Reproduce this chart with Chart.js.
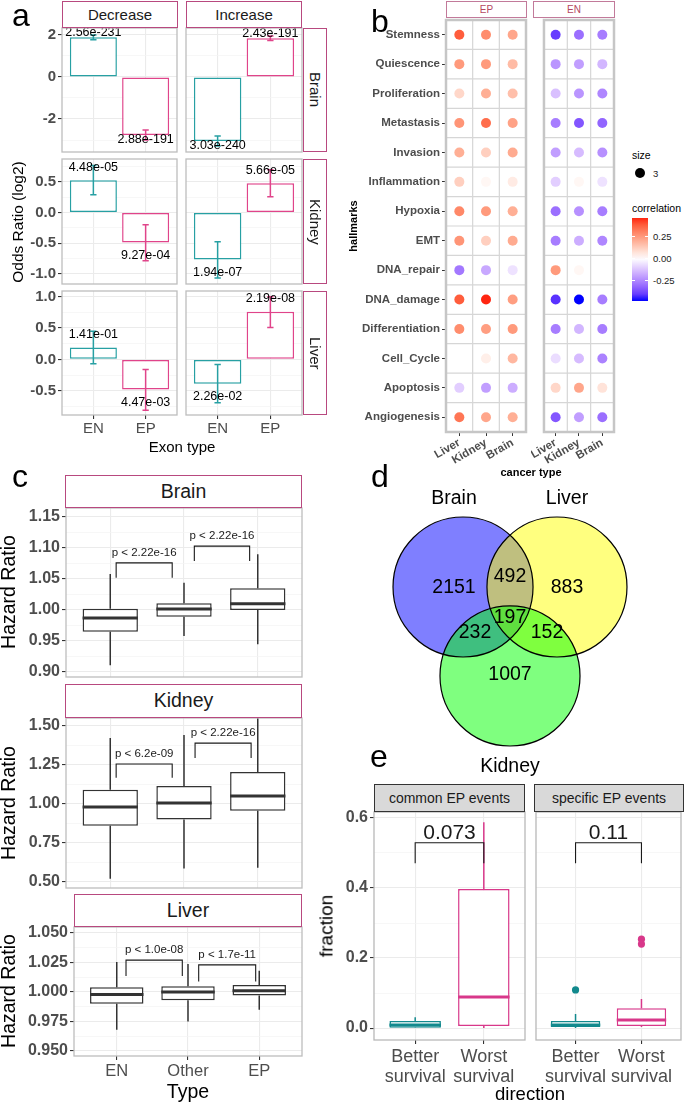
<!DOCTYPE html>
<html>
<head>
<meta charset="utf-8">
<title>Exon events figure</title>
<script src="https://cdn.jsdelivr.net/npm/chart.js@4.4.1/dist/chart.umd.min.js"></script>
<style>
  body { margin: 0; background: #fff; }
  #page { position: relative; width: 685px; height: 1104px; overflow: hidden; background: #fff;
          font-family: 'Liberation Sans', Arial, sans-serif; }
  #page canvas { position: absolute; z-index: 1; }
  .t { position: absolute; white-space: nowrap; line-height: 1; z-index: 3; }
  .strip { position: absolute; box-sizing: border-box; display: flex; align-items: center;
           justify-content: center; line-height: 1; z-index: 2; white-space: nowrap; }
</style>
</head>
<body>
<div id="page"></div>
<script>
// Fonts and colours
const FONT = "'Liberation Sans', Arial, sans-serif";
const TEAL = '#27A0A3';
const PINK = '#E0448A';
const TEAL_E = '#12898D';
const PINK_E = '#D8388A';
const GRID_MAJOR = '#EBEBEB';
const GRID_MINOR = '#F4F4F4';
const TICK = '#4D4D4D';
const PANEL_BORDER = '#BDBDBD';
const STRIP_BORDER = '#B8497F';
const exonColors = [TEAL, PINK];

// ---- Panel a: odds ratio (log2) per exon type ----
const exonTypes = ['EN', 'EP'];
const orBrainDec = [1.89, -2.76];
const orBrainInc = [-3.05, 1.84];
const orKidneyDec = [0.53, -0.49];
const orKidneyInc = [-0.77, 0.48];
const orLiverDec = [0.19, -0.48];
const orLiverInc = [-0.39, 0.76];
const ciBrainDec = [[1.77, 2.00], [-3.00, -2.52]];
const ciBrainInc = [[-3.28, -2.81], [1.74, 1.95]];
const ciKidneyDec = [[0.29, 0.77], [-0.79, -0.20]];
const ciKidneyInc = [[-1.07, -0.48], [0.26, 0.70]];
const ciLiverDec = [[-0.07, 0.45], [-0.81, -0.16]];
const ciLiverInc = [[-0.69, -0.08], [0.51, 1.00]];
const pBrainDec = ['2.56e-231', '2.88e-191'];
const pBrainInc = ['3.03e-240', '2.43e-191'];
const pKidneyDec = ['4.48e-05', '9.27e-04'];
const pKidneyInc = ['1.94e-07', '5.66e-05'];
const pLiverDec = ['1.41e-01', '4.47e-03'];
const pLiverInc = ['2.26e-02', '2.19e-08'];
const orTicksBrain = [-2, 0, 2];
const orTicksKidney = [-1, -0.5, 0, 0.5];
const orTicksLiver = [-0.5, 0, 0.5, 1];

// ---- Panel b: hallmark correlations ----
const hallmarks = ['Stemness', 'Quiescence', 'Proliferation', 'Metastasis', 'Invasion', 'Inflammation',
  'Hypoxia', 'EMT', 'DNA_repair', 'DNA_damage', 'Differentiation', 'Cell_Cycle', 'Apoptosis', 'Angiogenesis'];
const cancerTypes = ['Liver', 'Kidney', 'Brain'];
const corrEPLiver = [0.38, 0.25, 0.10, 0.26, 0.20, 0.12, 0.29, 0.26, -0.28, 0.38, 0.28, 0.00, -0.10, 0.33];
const corrEPKidney = [0.28, 0.25, 0.20, 0.35, 0.12, 0.02, 0.25, 0.12, -0.18, 0.46, 0.24, 0.04, -0.20, 0.22];
const corrEPBrain = [0.22, 0.17, 0.16, 0.23, 0.21, 0.05, 0.20, 0.21, -0.06, 0.24, 0.25, 0.18, -0.17, 0.20];
const corrENLiver = [-0.40, -0.22, -0.13, -0.27, -0.20, -0.10, -0.30, -0.27, 0.25, -0.42, -0.27, -0.07, 0.10, -0.35];
const corrENKidney = [-0.30, -0.20, -0.22, -0.35, -0.14, 0.02, -0.23, -0.17, 0.02, -0.48, -0.15, -0.14, 0.22, -0.20];
const corrENBrain = [-0.27, -0.15, -0.25, -0.32, -0.23, -0.06, -0.27, -0.25, 0.00, -0.27, -0.27, -0.26, 0.07, -0.30];
const corrTicks = [0.25, 0, -0.25];

// ---- Panel c: hazard ratios, [lower whisker, Q1, median, Q3, upper whisker] ----
const hrTypes = ['EN', 'Other', 'EP'];
const hrBrain = [[0.911, 0.965, 0.987, 1.002, 1.058], [0.958, 0.989, 1.0016, 1.011, 1.044], [0.945, 1.000, 1.010, 1.035, 1.090]];
const hrKidney = [[0.52, 0.86, 0.98, 1.09, 1.423], [0.585, 0.90, 1.006, 1.115, 1.442], [0.59, 0.955, 1.05, 1.205, 1.58]];
const hrLiver = [[0.968, 0.990, 0.998, 1.004, 1.0254], [0.975, 0.993, 1.000, 1.005, 1.0237], [0.985, 0.997, 1.001, 1.006, 1.018]];
const hrTicksBrain = [0.90, 0.95, 1.00, 1.05, 1.10, 1.15];
const hrTicksKidney = [0.50, 0.75, 1.00, 1.25, 1.50];
const hrTicksLiver = [0.950, 0.975, 1.000, 1.025, 1.050];
// significance brackets: [from, to, leg end, bar height, label]
const sigBrain = [[0.08, 0.84, 1.052, 1.076, 'p < 2.22e-16'], [1.14, 1.89, 1.079, 1.103, 'p < 2.22e-16']];
const sigKidney = [[0.08, 0.84, 1.167, 1.256, 'p < 6.2e-09'], [1.15, 1.91, 1.295, 1.39, 'p < 2.22e-16']];
const sigLiver = [[0.13, 0.92, 1.0135, 1.027, 'p < 1.0e-08'], [1.15, 1.95, 1.009, 1.023, 'p < 1.7e-11']];

// ---- Panel d: Venn counts ----
const vennSets = ['Brain', 'Liver', 'Kidney'];
const vennRegions = ['Brain only', 'Brain+Liver', 'Liver only', 'Brain+Kidney', 'all', 'Liver+Kidney', 'Kidney only'];
const vennCounts = [2151, 492, 883, 232, 197, 152, 1007];

// ---- Panel e: fraction by survival direction ----
const directions = [['Better', 'survival'], ['Worst', 'survival']];
const fracCommon = [[0.0, 0.001, 0.009, 0.020, 0.031], [0.0, 0.006, 0.089, 0.397, 0.588]];
const fracSpecific = [[0.0, 0.003, 0.009, 0.020, 0.040], [0.003, 0.006, 0.023, 0.057, 0.083]];
const outliersSpecific = [[0, 0.109], [1, 0.254], [1, 0.240]];
const sigCommon = [[0, 1, 0.471, 0.529, '0.073']];
const sigSpecific = [[0, 1, 0.471, 0.529, '0.11']];
const fracTicks = [0, 0.2, 0.4, 0.6];

// Venn geometry (circle radius = 1 unit)
const vennCircles = [[-0.671, 0], [0.671, 0], [0, -1.271]];
const vennCountAt = [[-0.8, -0.014], [0, 0.143], [0.814, -0.014], [-0.5, -0.657], [0, -0.443], [0.529, -0.657], [0, -1.257]];
const vennNameAt = [[-0.8, 1.257], [0.814, 1.257], [0, -2.571]];

const page = document.getElementById('page');

// Colour scale for correlation (gradient2 in Lab space)
function rgbToLab([r, g, b]) {
  const lin = c => { c /= 255; return c <= 0.04045 ? c / 12.92 : Math.pow((c + 0.055) / 1.055, 2.4); };
  const R = lin(r), G = lin(g), B = lin(b);
  const X = (0.4124 * R + 0.3576 * G + 0.1805 * B) / 0.95047;
  const Y = 0.2126 * R + 0.7152 * G + 0.0722 * B;
  const Z = (0.0193 * R + 0.1192 * G + 0.9505 * B) / 1.08883;
  const f = t => t > 0.008856 ? Math.cbrt(t) : 7.787 * t + 16 / 116;
  return [116 * f(Y) - 16, 500 * (f(X) - f(Y)), 200 * (f(Y) - f(Z))];
}
function labToRgb([L, a, b]) {
  const fy = (L + 16) / 116, fx = fy + a / 500, fz = fy - b / 200;
  const inv = t => t > 0.206893 ? t * t * t : (t - 16 / 116) / 7.787;
  const X = 0.95047 * inv(fx), Y = inv(fy), Z = 1.08883 * inv(fz);
  const gam = c => {
    c = c <= 0.0031308 ? 12.92 * c : 1.055 * Math.pow(c, 1 / 2.4) - 0.055;
    return Math.round(Math.min(1, Math.max(0, c)) * 255);
  };
  return [gam(3.2406 * X - 1.5372 * Y - 0.4986 * Z), gam(-0.9689 * X + 1.8758 * Y + 0.0415 * Z),
          gam(0.0557 * X - 0.2040 * Y + 1.0570 * Z)];
}
const LAB_LOW = rgbToLab([0, 0, 255]);
const LAB_MID = rgbToLab([255, 255, 255]);
const LAB_HIGH = rgbToLab([255, 0, 0]);
const CORR_LIMIT = 0.48;
function corrColor(v) {
  const t = Math.max(-1, Math.min(1, v / CORR_LIMIT));
  const end = t < 0 ? LAB_LOW : LAB_HIGH, k = Math.abs(t);
  const [r, g, b] = labToRgb(LAB_MID.map((m, i) => m + (end[i] - m) * k));
  return `rgb(${r},${g},${b})`;
}

// HTML text helpers
function text(str, cx, cy, size, o = {}) {
  const d = document.createElement('div');
  d.className = 't';
  d.textContent = str;
  d.style.left = cx + 'px';
  d.style.top = cy + 'px';
  d.style.fontSize = size + 'px';
  d.style.color = o.color || '#000';
  if (o.bold) d.style.fontWeight = 'bold';
  const ax = o.anchor === 'start' ? '0' : '-50%';
  d.style.transform = `translate(${ax}, -50%)` + (o.rotate ? ` rotate(${o.rotate}deg)` : '');
  page.appendChild(d);
  return d;
}
function strip(str, x, y, w, h, o = {}) {
  const d = document.createElement('div');
  d.className = 'strip';
  d.textContent = str;
  Object.assign(d.style, {
    left: x + 'px', top: y + 'px', width: w + 'px', height: h + 'px',
    fontSize: (o.size || 15) + 'px', color: o.color || '#1A1A1A',
    background: o.fill || '#fff', border: `1px solid ${o.border || STRIP_BORDER}`
  });
  if (o.vertical) d.style.writingMode = 'vertical-rl';
  page.appendChild(d);
}

// Chart with an exact plot rectangle on the page
function plotArea(rect, pad, config) {
  const [x, y, w, h] = rect;
  const [pt, pr, pb, pl] = pad;
  const canvas = document.createElement('canvas');
  canvas.width = pl + w + pr;
  canvas.height = pt + h + pb;
  canvas.style.left = (x - pl) + 'px';
  canvas.style.top = (y - pt) + 'px';
  canvas.style.width = canvas.width + 'px';
  canvas.style.height = canvas.height + 'px';
  page.appendChild(canvas);
  const opts = config.options;
  opts.responsive = false;
  opts.animation = false;
  opts.events = [];
  opts.devicePixelRatio = 1;
  opts.layout = { padding: { top: pt, right: pr, bottom: 0, left: 0 } };
  opts.plugins = { legend: { display: false }, tooltip: { enabled: false } };
  opts.scales.x.afterFit = s => { s.height = pb; };
  opts.scales.y.afterFit = s => { s.width = pl; };
  return new Chart(canvas, config);
}

function minorsOf(majors, min, max) {
  const step = majors[1] - majors[0], out = [];
  for (let v = majors[0] - step / 2; v <= max; v += step) {
    if (v >= min) out.push(+v.toFixed(6));
  }
  return out;
}

function yAxis(majors, min, max, digits, show, size) {
  const minors = minorsOf(majors, min, max);
  const isMajor = t => t && majors.includes(t.value);
  return {
    type: 'linear', min, max,
    afterBuildTicks: s => { s.ticks = majors.concat(minors).map(v => ({ value: v })); },
    ticks: {
      display: show, autoSkip: false, padding: 2, color: TICK,
      font: { family: FONT, size, weight: 'bold' },
      callback: v => majors.includes(v) ? v.toFixed(digits) : ''
    },
    grid: {
      color: c => isMajor(c.tick) ? GRID_MAJOR : GRID_MINOR,
      lineWidth: c => isMajor(c.tick) ? 1.1 : 0.7,
      tickColor: c => show && isMajor(c.tick) ? '#333' : 'rgba(0,0,0,0)',
      tickLength: 4
    },
    border: { display: false }
  };
}

function xCats(labels, show, size, pad) {
  return {
    type: 'linear', min: -0.6, max: labels.length - 0.4, offset: false,
    afterBuildTicks: s => { s.ticks = labels.map((_, i) => ({ value: i })); },
    ticks: {
      display: show, autoSkip: false, minRotation: 0, maxRotation: 0, padding: pad || 2, color: TICK,
      font: { family: FONT, size, lineHeight: 1.1 },
      callback: v => labels[v]
    },
    grid: { color: GRID_MAJOR, lineWidth: 1.1, offset: false, tickColor: show ? '#333' : 'rgba(0,0,0,0)', tickLength: 4 },
    border: { display: false }
  };
}

// Plugins
const framePlugin = (color, width) => ({
  id: 'frame',
  afterDraw(chart) {
    const { ctx, chartArea: a } = chart;
    ctx.save();
    ctx.strokeStyle = color;
    ctx.lineWidth = width;
    ctx.strokeRect(a.left, a.top, a.width, a.height);
    ctx.restore();
  }
});

const errorBarPlugin = (vals, ci, labels) => ({
  id: 'errorBars',
  afterDatasetsDraw(chart) {
    const { ctx, scales: { x, y } } = chart;
    const cap = x.getPixelForValue(0.06) - x.getPixelForValue(0);
    ctx.save();
    ctx.lineWidth = 1.5;
    vals.forEach((v, i) => {
      const px = x.getPixelForValue(i);
      const lo = y.getPixelForValue(ci[i][0]), hi = y.getPixelForValue(ci[i][1]);
      ctx.strokeStyle = exonColors[i];
      ctx.beginPath();
      ctx.moveTo(px, lo); ctx.lineTo(px, hi);
      ctx.moveTo(px - cap, lo); ctx.lineTo(px + cap, lo);
      ctx.moveTo(px - cap, hi); ctx.lineTo(px + cap, hi);
      ctx.stroke();
      ctx.fillStyle = '#000';
      ctx.font = `12.5px ${FONT}`;
      ctx.textAlign = 'center';
      ctx.textBaseline = 'middle';
      ctx.fillText(labels[i], px, y.getPixelForValue(v + Math.sign(v) * 0.21));
    });
    ctx.restore();
  }
});

const boxPlugin = (stats, colors) => ({
  id: 'boxParts',
  afterDatasetsDraw(chart) {
    const { ctx, chartArea: a, scales: { x, y } } = chart;
    const half = x.getPixelForValue(0.375) - x.getPixelForValue(0);
    ctx.save();
    ctx.beginPath();
    ctx.rect(a.left, a.top, a.width, a.height);
    ctx.clip();
    stats.forEach((s, i) => {
      const px = x.getPixelForValue(i);
      ctx.strokeStyle = colors[i];
      ctx.lineWidth = 1.5;
      ctx.beginPath();
      ctx.moveTo(px, y.getPixelForValue(s[0])); ctx.lineTo(px, y.getPixelForValue(s[1]));
      ctx.moveTo(px, y.getPixelForValue(s[3])); ctx.lineTo(px, y.getPixelForValue(s[4]));
      ctx.stroke();
      ctx.lineWidth = 3;
      ctx.beginPath();
      ctx.moveTo(px - half, y.getPixelForValue(s[2]));
      ctx.lineTo(px + half, y.getPixelForValue(s[2]));
      ctx.stroke();
    });
    ctx.restore();
  }
});

const bracketPlugin = (list, font, gap) => ({
  id: 'brackets',
  afterDatasetsDraw(chart) {
    const { ctx, scales: { x, y } } = chart;
    ctx.save();
    ctx.strokeStyle = '#1A1A1A';
    ctx.fillStyle = '#1A1A1A';
    ctx.lineWidth = 1.1;
    ctx.font = font;
    ctx.textAlign = 'center';
    ctx.textBaseline = 'middle';
    list.forEach(([x1, x2, yLeg, yTop, label]) => {
      const a = x.getPixelForValue(x1), b = x.getPixelForValue(x2);
      const top = y.getPixelForValue(yTop), leg = y.getPixelForValue(yLeg);
      ctx.beginPath();
      ctx.moveTo(a, leg); ctx.lineTo(a, top); ctx.lineTo(b, top); ctx.lineTo(b, leg);
      ctx.stroke();
      ctx.fillText(label, (a + b) / 2, top - gap);
    });
    ctx.restore();
  }
});

const cellPlugin = {
  id: 'cells',
  beforeDatasetsDraw(chart) {
    const { ctx, chartArea: a, scales: { x, y } } = chart;
    ctx.save();
    ctx.strokeStyle = '#D6D6D6';
    ctx.lineWidth = 1.2;
    ctx.beginPath();
    for (let i = 0; i < cancerTypes.length - 1; i++) {
      const px = x.getPixelForValue(i + 0.5);
      ctx.moveTo(px, a.top); ctx.lineTo(px, a.bottom);
    }
    for (let j = 0; j < hallmarks.length - 1; j++) {
      const py = y.getPixelForValue(j + 0.5);
      ctx.moveTo(a.left, py); ctx.lineTo(a.right, py);
    }
    ctx.stroke();
    ctx.restore();
  }
};

const vennTextPlugin = {
  id: 'vennText',
  afterDatasetsDraw(chart) {
    const { ctx, scales: { x, y } } = chart;
    ctx.save();
    ctx.fillStyle = '#000';
    ctx.font = `19.5px ${FONT}`;
    ctx.textAlign = 'center';
    ctx.textBaseline = 'middle';
    vennCounts.forEach((n, i) => ctx.fillText(String(n), x.getPixelForValue(vennCountAt[i][0]), y.getPixelForValue(vennCountAt[i][1])));
    vennSets.forEach((s, i) => ctx.fillText(s, x.getPixelForValue(vennNameAt[i][0]), y.getPixelForValue(vennNameAt[i][1])));
    ctx.restore();
  }
};

// ---------- Panel a ----------
function orFacet(rect, pad, vals, ci, pv, ticks, min, max, digits, showY, showX) {
  return plotArea(rect, pad, {
    type: 'bar',
    data: { datasets: [{
      data: vals.map((v, i) => ({ x: i, y: v })),
      backgroundColor: '#FFFFFF', borderColor: exonColors, borderWidth: 1.5, borderSkipped: false,
      categoryPercentage: 1, barPercentage: 0.9
    }] },
    options: { scales: { x: xCats(exonTypes, showX, 15), y: yAxis(ticks, min, max, digits, showY, 15) } },
    plugins: [errorBarPlugin(vals, ci, pv), framePlugin(PANEL_BORDER, 1.3)]
  });
}
orFacet([62, 28, 115, 124], [14, 2, 14, 50], orBrainDec, ciBrainDec, pBrainDec, orTicksBrain, -3.57, 2.33, 0, true, false);
orFacet([186, 28, 116, 124], [14, 2, 14, 2], orBrainInc, ciBrainInc, pBrainInc, orTicksBrain, -3.57, 2.33, 0, false, false);
orFacet([62, 159, 115, 125], [14, 2, 14, 50], orKidneyDec, ciKidneyDec, pKidneyDec, orTicksKidney, -1.17, 0.877, 1, true, false);
orFacet([186, 159, 116, 125], [14, 2, 14, 2], orKidneyInc, ciKidneyInc, pKidneyInc, orTicksKidney, -1.17, 0.877, 1, false, false);
orFacet([62, 291, 115, 124], [14, 2, 30, 50], orLiverDec, ciLiverDec, pLiverDec, orTicksLiver, -0.887, 1.09, 1, true, true);
orFacet([186, 291, 116, 124], [14, 2, 30, 2], orLiverInc, ciLiverInc, pLiverInc, orTicksLiver, -0.887, 1.09, 1, false, true);

strip('Decrease', 62, 1, 116, 27);
strip('Increase', 186, 1, 116, 27);
strip('Brain', 303, 28, 24, 124, { vertical: true });
strip('Kidney', 303, 159, 24, 125, { vertical: true });
strip('Liver', 303, 291, 24, 124, { vertical: true });
text('Odds Ratio (log2)', 18, 222, 15.5, { rotate: -90 });
text('Exon type', 182, 446, 15);

// ---------- Panel b ----------
function corrFacet(rect, pad, cols, showY) {
  const pts = [];
  hallmarks.forEach((h, j) => cancerTypes.forEach((c, i) => pts.push({ x: c, y: h, v: cols[i][j] })));
  const tickFont = { family: FONT, size: 11.5, weight: 'bold' };
  return plotArea(rect, pad, {
    type: 'scatter',
    data: { datasets: [{
      data: pts, pointRadius: 5, pointBorderWidth: 0,
      pointBackgroundColor: c => c.raw ? corrColor(c.raw.v) : '#fff'
    }] },
    options: { scales: {
      x: { type: 'category', labels: cancerTypes, offset: true,
           ticks: { autoSkip: false, minRotation: 30, maxRotation: 30, padding: 0, color: TICK, font: tickFont },
           grid: { color: 'rgba(0,0,0,0)', offset: false, tickColor: '#333', tickLength: 4 },
           border: { display: false } },
      y: { type: 'category', labels: hallmarks, offset: true,
           ticks: { display: showY, autoSkip: false, padding: 2, color: TICK, font: tickFont },
           grid: { color: 'rgba(0,0,0,0)', offset: false, tickColor: showY ? '#333' : 'rgba(0,0,0,0)', tickLength: 4 },
           border: { display: false } }
    } },
    plugins: [cellPlugin, framePlugin('#C6C6C6', 2.5)]
  });
}
corrFacet([446, 20, 81, 412], [14, 4, 40, 104], [corrEPLiver, corrEPKidney, corrEPBrain], true);
corrFacet([533, 20, 82, 412], [14, 4, 40, 2], [corrENLiver, corrENKidney, corrENBrain], false);

strip('EP', 446, 1, 81, 17, { size: 10, color: '#B5475F', border: '#C27A9A' });
strip('EN', 533, 1, 82, 17, { size: 10, color: '#B5475F', border: '#C27A9A' });
text('hallmarks', 353, 226, 11, { rotate: -90, bold: true });
text('cancer type', 531, 472, 11, { bold: true });

// legend: size and colour bar
text('size', 632, 155, 10.5, { anchor: 'start' });
const dot = document.createElement('div');
Object.assign(dot.style, { position: 'absolute', left: '635px', top: '168px', width: '10px', height: '10px',
  borderRadius: '50%', background: '#000', zIndex: 3 });
page.appendChild(dot);
text('3', 653, 174, 9.5, { anchor: 'start', color: '#1A1A1A' });
text('correlation', 632, 208, 10.5, { anchor: 'start' });
const barTop = 218, barH = 83, barMax = 0.46, barMin = -0.48;
const stops = [];
for (let k = 0; k <= 12; k++) {
  const v = barMax - (barMax - barMin) * k / 12;
  stops.push(`${corrColor(v)} ${(k / 12 * 100).toFixed(1)}%`);
}
const cbar = document.createElement('div');
Object.assign(cbar.style, { position: 'absolute', left: '632px', top: barTop + 'px', width: '16px', height: barH + 'px',
  background: `linear-gradient(to bottom, ${stops.join(', ')})`, zIndex: 2 });
page.appendChild(cbar);
corrTicks.forEach(v => {
  const py = barTop + (barMax - v) / (barMax - barMin) * barH;
  [632, 645].forEach(lx => {
    const m = document.createElement('div');
    Object.assign(m.style, { position: 'absolute', left: lx + 'px', top: (py - 0.5) + 'px', width: '3px', height: '1px',
      background: '#fff', zIndex: 3 });
    page.appendChild(m);
  });
  text(v.toFixed(2), 653, py, 9.5, { anchor: 'start', color: '#1A1A1A' });
});

// ---------- Panel c ----------
function hrFacet(rect, pad, stats, sig, ticks, min, max, digits, showX) {
  return plotArea(rect, pad, {
    type: 'bar',
    data: { datasets: [{
      data: stats.map((s, i) => ({ x: i, y: [s[1], s[3]] })),
      backgroundColor: '#FFFFFF', borderColor: '#333333', borderWidth: 1.5, borderSkipped: false,
      categoryPercentage: 1, barPercentage: 0.75
    }] },
    options: { scales: { x: xCats(hrTypes, showX, 16.5), y: yAxis(ticks, min, max, digits, true, 16) } },
    plugins: [boxPlugin(stats, ['#333', '#333', '#333']), bracketPlugin(sig, `11.5px ${FONT}`, 10),
              framePlugin(PANEL_BORDER, 1.3)]
  });
}
hrFacet([66, 508, 236, 169], [14, 4, 14, 66], hrBrain, sigBrain, hrTicksBrain, 0.892, 1.1645, 2, false);
hrFacet([66, 718, 236, 170], [14, 4, 14, 66], hrKidney, sigKidney, hrTicksKidney, 0.46, 1.551, 2, false);
hrFacet([74, 927, 228, 129], [14, 4, 40, 74], hrLiver, sigLiver, hrTicksLiver, 0.9458, 1.0551, 3, true);

strip('Brain', 65, 475, 237, 33, { size: 19.5 });
strip('Kidney', 65, 684, 237, 34, { size: 19.5 });
strip('Liver', 74, 894, 228, 33, { size: 19.5 });
text('Hazard Ratio', 9, 592, 19.5, { rotate: -90 });
text('Hazard Ratio', 9, 803, 19.5, { rotate: -90 });
text('Hazard Ratio', 9, 991, 19.5, { rotate: -90 });
text('Type', 188, 1092, 19.5);

// ---------- Panel d ----------
plotArea([383, 487, 254, 290], [0, 0, 0, 0], {
  type: 'scatter',
  data: { datasets: [
    { data: vennCircles.map(([x, y], i) => ({ x, y, set: vennSets[i] })), order: 0,
      pointBackgroundColor: 'rgba(0,0,0,0)', pointBorderColor: '#000', pointBorderWidth: 1.2,
      pointRadius: c => c.chart.scales.x.getPixelForValue(1) - c.chart.scales.x.getPixelForValue(0) },
    { data: vennCircles.map(([x, y], i) => ({ x, y, set: vennSets[i] })), order: 1,
      pointBackgroundColor: ['rgba(0,0,255,0.5)', 'rgba(255,255,0,0.5)', 'rgba(0,255,0,0.5)'], pointBorderWidth: 0,
      pointRadius: c => c.chart.scales.x.getPixelForValue(1) - c.chart.scales.x.getPixelForValue(0) }
  ] },
  options: { scales: {
    x: { type: 'linear', min: -1.814, max: 1.814, display: false },
    y: { type: 'linear', min: -2.714, max: 1.4286, display: false }
  } },
  plugins: [vennTextPlugin]
});

// ---------- Panel e ----------
function fracFacet(rect, pad, stats, outliers, sig, showY) {
  const colors = [TEAL_E, PINK_E];
  return plotArea(rect, pad, {
    type: 'bar',
    data: { datasets: [
      { type: 'scatter', data: outliers.map(([x, y]) => ({ x, y })), pointRadius: 3.6, pointBorderWidth: 0,
        pointBackgroundColor: outliers.map(([x]) => colors[x]) },
      { data: stats.map((s, i) => ({ x: i, y: [s[1], s[3]] })),
        backgroundColor: '#FFFFFF', borderColor: colors, borderWidth: 1.5, borderSkipped: false,
        categoryPercentage: 1, barPercentage: 0.75 }
    ] },
    options: { scales: { x: xCats(directions, true, 18, 3), y: yAxis(fracTicks, -0.034, 0.617, 1, showY, 16) } },
    plugins: [boxPlugin(stats, colors), bracketPlugin(sig, `21px ${FONT}`, 10), framePlugin('#B8B8B8', 1.3)]
  });
}
fracFacet([374, 812, 151, 228], [14, 4, 50, 40], fracCommon, [], sigCommon, true);
fracFacet([534, 812, 150, 228], [14, 1, 50, 2], fracSpecific, outliersSpecific, sigSpecific, false);

strip('common EP events', 374, 784, 151, 28, { size: 14, fill: '#D9D9D9', border: '#333' });
strip('specific EP events', 534, 784, 150, 28, { size: 14, fill: '#D9D9D9', border: '#333' });
text('fraction', 326, 926, 19, { rotate: -90 });
text('direction', 530, 1094, 18.5);

// Panel letters
text('a', 12, 15, 32, { anchor: 'start' });
text('b', 371, 21, 32, { anchor: 'start' });
text('c', 12, 476, 32, { anchor: 'start' });
text('d', 371, 476, 32, { anchor: 'start' });
text('e', 370, 756, 32, { anchor: 'start' });
</script>
</body>
</html>
